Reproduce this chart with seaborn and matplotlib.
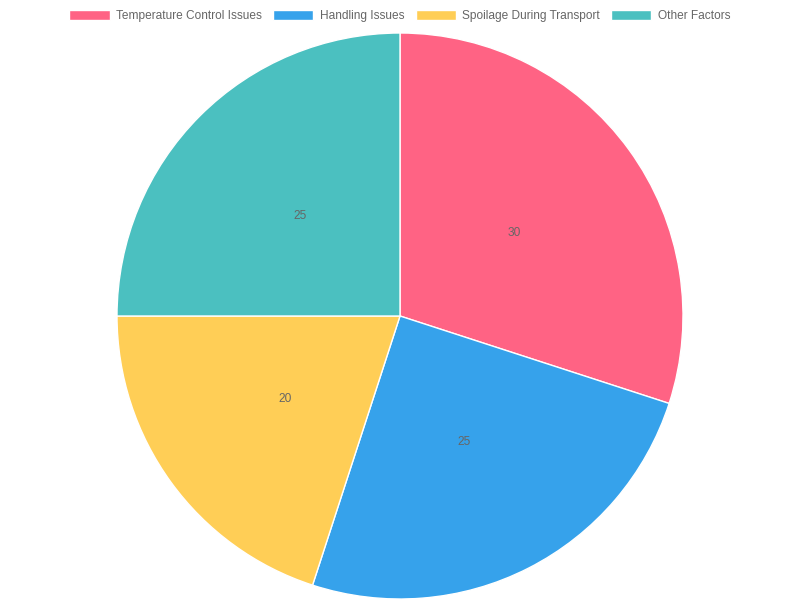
import matplotlib
matplotlib.use("Agg")
import matplotlib.pyplot as plt
from matplotlib.patches import Patch
import seaborn as sns

# data
labels = ['Temperature Control Issues', 'Handling Issues', 'Spoilage During Transport', 'Other Factors']
values = [30, 25, 20, 25]
colors = ['#FF6384', '#36A2EB', '#FFCE56', '#4BC0C0']

sns.set_theme(style="white")
plt.rcParams['font.family'] = ['Liberation Sans', 'DejaVu Sans']

fig = plt.figure(figsize=(8, 6), dpi=100)
r_px = 283
cx, cy = 400, 316
ax = fig.add_axes([(cx - r_px) / 800, (600 - cy - r_px) / 600, 2 * r_px / 800, 2 * r_px / 600])

wedges, texts = ax.pie(values, colors=colors, startangle=90, counterclock=False,
                       labels=[str(v) for v in values], labeldistance=0.5,
                       wedgeprops=dict(edgecolor='white', linewidth=1),
                       textprops=dict(color='#666666', fontsize=8.6, ha='center', va='center'))
ax.set_aspect('equal')
ax.set_xlim(-1, 1)
ax.set_ylim(-1, 1)

handles = [Patch(facecolor=c, edgecolor='white', linewidth=1) for c in colors]
leg = fig.legend(handles, labels, loc='center', bbox_to_anchor=(0.5, 1 - 16 / 600), ncol=4,
                 frameon=False, fontsize=8.6, handlelength=3.35, handleheight=1.0,
                 handletextpad=0.55, columnspacing=0.95, labelcolor='#666666')

fig.savefig('out.png', dpi=100)
